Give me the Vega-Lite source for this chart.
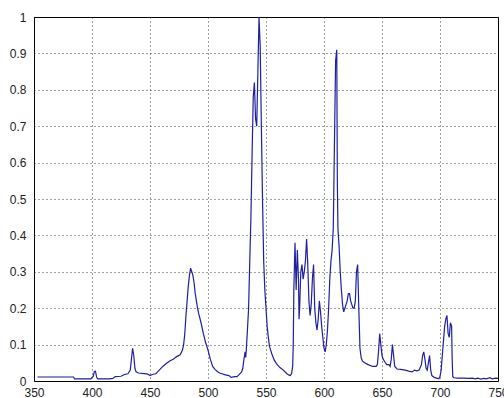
{
  "$schema": "https://vega.github.io/schema/vega-lite/v6.json",
  "width": 464,
  "height": 364,
  "autosize": {"type": "none"},
  "padding": {"left": 34, "top": 17, "right": 6, "bottom": 17},
  "background": "#ffffff",
  "config": {
    "view": {"stroke": "#000000", "strokeWidth": 1},
    "axis": {
      "domain": false,
      "ticks": false,
      "grid": true,
      "gridColor": "#000000",
      "gridOpacity": 0.75,
      "gridDash": [1, 3],
      "gridWidth": 1,
      "labelFont": "Liberation Sans",
      "labelFontSize": 12,
      "labelColor": "#222222",
      "title": null
    }
  },
  "data": {
    "values": [
      {"nm": 353, "v": 0.011}, {"nm": 384, "v": 0.011}, {"nm": 385, "v": 0.006}, {"nm": 399, "v": 0.006},
      {"nm": 400, "v": 0.01}, {"nm": 401, "v": 0.012}, {"nm": 402, "v": 0.026}, {"nm": 403, "v": 0.027},
      {"nm": 404, "v": 0.01}, {"nm": 405, "v": 0.006}, {"nm": 410, "v": 0.006}, {"nm": 415, "v": 0.006},
      {"nm": 418, "v": 0.007}, {"nm": 420, "v": 0.012}, {"nm": 425, "v": 0.013}, {"nm": 428, "v": 0.018},
      {"nm": 431, "v": 0.02}, {"nm": 433, "v": 0.03}, {"nm": 434, "v": 0.06}, {"nm": 435, "v": 0.09},
      {"nm": 436, "v": 0.07}, {"nm": 437, "v": 0.035}, {"nm": 438, "v": 0.025}, {"nm": 440, "v": 0.022},
      {"nm": 445, "v": 0.02}, {"nm": 448, "v": 0.019}, {"nm": 450, "v": 0.015}, {"nm": 452, "v": 0.018},
      {"nm": 455, "v": 0.02}, {"nm": 458, "v": 0.03}, {"nm": 461, "v": 0.04}, {"nm": 464, "v": 0.048},
      {"nm": 467, "v": 0.055}, {"nm": 470, "v": 0.06}, {"nm": 473, "v": 0.067}, {"nm": 476, "v": 0.072},
      {"nm": 478, "v": 0.085}, {"nm": 479, "v": 0.1}, {"nm": 480, "v": 0.13}, {"nm": 481, "v": 0.18},
      {"nm": 482, "v": 0.22}, {"nm": 483, "v": 0.26}, {"nm": 484, "v": 0.29}, {"nm": 485, "v": 0.31},
      {"nm": 486, "v": 0.3}, {"nm": 487, "v": 0.29}, {"nm": 488, "v": 0.27}, {"nm": 489, "v": 0.24},
      {"nm": 490, "v": 0.22}, {"nm": 491, "v": 0.2}, {"nm": 492, "v": 0.185}, {"nm": 494, "v": 0.16},
      {"nm": 496, "v": 0.13}, {"nm": 498, "v": 0.105}, {"nm": 500, "v": 0.085}, {"nm": 502, "v": 0.06},
      {"nm": 504, "v": 0.04}, {"nm": 506, "v": 0.032}, {"nm": 508, "v": 0.026}, {"nm": 510, "v": 0.022},
      {"nm": 512, "v": 0.02}, {"nm": 515, "v": 0.017}, {"nm": 518, "v": 0.015}, {"nm": 520, "v": 0.01},
      {"nm": 523, "v": 0.012}, {"nm": 525, "v": 0.012}, {"nm": 527, "v": 0.018}, {"nm": 529, "v": 0.025},
      {"nm": 530, "v": 0.035}, {"nm": 531, "v": 0.06}, {"nm": 532, "v": 0.08}, {"nm": 532.5, "v": 0.065},
      {"nm": 533, "v": 0.085}, {"nm": 534, "v": 0.14}, {"nm": 535, "v": 0.2}, {"nm": 536, "v": 0.33},
      {"nm": 537, "v": 0.45}, {"nm": 538, "v": 0.62}, {"nm": 539, "v": 0.78}, {"nm": 540, "v": 0.82},
      {"nm": 541, "v": 0.72}, {"nm": 542, "v": 0.7}, {"nm": 543, "v": 0.85}, {"nm": 544, "v": 1.0},
      {"nm": 545, "v": 0.92}, {"nm": 546, "v": 0.7}, {"nm": 547, "v": 0.5}, {"nm": 548, "v": 0.33},
      {"nm": 549, "v": 0.25}, {"nm": 550, "v": 0.2}, {"nm": 551, "v": 0.15}, {"nm": 552, "v": 0.12},
      {"nm": 553, "v": 0.095}, {"nm": 555, "v": 0.075}, {"nm": 557, "v": 0.058}, {"nm": 559, "v": 0.048},
      {"nm": 562, "v": 0.037}, {"nm": 565, "v": 0.03}, {"nm": 568, "v": 0.02}, {"nm": 570, "v": 0.016},
      {"nm": 571, "v": 0.015}, {"nm": 572, "v": 0.02}, {"nm": 573, "v": 0.04}, {"nm": 573.5, "v": 0.1},
      {"nm": 574, "v": 0.25}, {"nm": 575, "v": 0.38}, {"nm": 576, "v": 0.25}, {"nm": 577, "v": 0.36},
      {"nm": 578, "v": 0.28}, {"nm": 578.5, "v": 0.17}, {"nm": 579, "v": 0.2}, {"nm": 580, "v": 0.3},
      {"nm": 581, "v": 0.32}, {"nm": 582, "v": 0.28}, {"nm": 583, "v": 0.3}, {"nm": 584, "v": 0.33},
      {"nm": 585, "v": 0.39}, {"nm": 586, "v": 0.32}, {"nm": 587, "v": 0.22}, {"nm": 588, "v": 0.18},
      {"nm": 589, "v": 0.21}, {"nm": 590, "v": 0.28}, {"nm": 591, "v": 0.32}, {"nm": 592, "v": 0.2},
      {"nm": 593, "v": 0.16}, {"nm": 594, "v": 0.14}, {"nm": 595, "v": 0.17}, {"nm": 596, "v": 0.22},
      {"nm": 597, "v": 0.19}, {"nm": 598, "v": 0.15}, {"nm": 599, "v": 0.12}, {"nm": 600, "v": 0.09},
      {"nm": 601, "v": 0.08}, {"nm": 602, "v": 0.1}, {"nm": 603, "v": 0.14}, {"nm": 604, "v": 0.2},
      {"nm": 605, "v": 0.28}, {"nm": 606, "v": 0.33}, {"nm": 607, "v": 0.36}, {"nm": 608, "v": 0.42},
      {"nm": 609, "v": 0.65}, {"nm": 610, "v": 0.88}, {"nm": 611, "v": 0.91}, {"nm": 611.5, "v": 0.55},
      {"nm": 612, "v": 0.42}, {"nm": 613, "v": 0.37}, {"nm": 614, "v": 0.3}, {"nm": 615, "v": 0.25},
      {"nm": 616, "v": 0.21}, {"nm": 617, "v": 0.19}, {"nm": 618, "v": 0.2}, {"nm": 619, "v": 0.21},
      {"nm": 620, "v": 0.22}, {"nm": 621, "v": 0.24}, {"nm": 622, "v": 0.24}, {"nm": 623, "v": 0.22},
      {"nm": 624, "v": 0.21}, {"nm": 625, "v": 0.2}, {"nm": 626, "v": 0.2}, {"nm": 627, "v": 0.22},
      {"nm": 628, "v": 0.3}, {"nm": 629, "v": 0.32}, {"nm": 630, "v": 0.2}, {"nm": 631, "v": 0.09},
      {"nm": 632, "v": 0.065}, {"nm": 633, "v": 0.055}, {"nm": 635, "v": 0.05}, {"nm": 638, "v": 0.045},
      {"nm": 642, "v": 0.04}, {"nm": 645, "v": 0.04}, {"nm": 646, "v": 0.045}, {"nm": 647, "v": 0.08},
      {"nm": 648, "v": 0.13}, {"nm": 649, "v": 0.1}, {"nm": 650, "v": 0.07}, {"nm": 651, "v": 0.06},
      {"nm": 652, "v": 0.055}, {"nm": 654, "v": 0.045}, {"nm": 656, "v": 0.045}, {"nm": 657, "v": 0.04},
      {"nm": 658, "v": 0.06}, {"nm": 659, "v": 0.1}, {"nm": 660, "v": 0.07}, {"nm": 661, "v": 0.04},
      {"nm": 663, "v": 0.033}, {"nm": 666, "v": 0.032}, {"nm": 670, "v": 0.03}, {"nm": 673, "v": 0.027},
      {"nm": 676, "v": 0.025}, {"nm": 678, "v": 0.03}, {"nm": 680, "v": 0.028}, {"nm": 682, "v": 0.03},
      {"nm": 684, "v": 0.045}, {"nm": 685, "v": 0.07}, {"nm": 686, "v": 0.08}, {"nm": 687, "v": 0.06},
      {"nm": 688, "v": 0.035}, {"nm": 689, "v": 0.03}, {"nm": 690, "v": 0.05}, {"nm": 691, "v": 0.07},
      {"nm": 692, "v": 0.03}, {"nm": 693, "v": 0.015}, {"nm": 695, "v": 0.01}, {"nm": 697, "v": 0.008},
      {"nm": 699, "v": 0.006}, {"nm": 700, "v": 0.012}, {"nm": 701, "v": 0.03}, {"nm": 702, "v": 0.07},
      {"nm": 703, "v": 0.11}, {"nm": 704, "v": 0.15}, {"nm": 705, "v": 0.17}, {"nm": 706, "v": 0.18},
      {"nm": 707, "v": 0.13}, {"nm": 708, "v": 0.12}, {"nm": 709, "v": 0.16}, {"nm": 710, "v": 0.15},
      {"nm": 710.5, "v": 0.06}, {"nm": 711, "v": 0.012}, {"nm": 712, "v": 0.009}, {"nm": 715, "v": 0.008},
      {"nm": 720, "v": 0.008}, {"nm": 725, "v": 0.007}, {"nm": 728, "v": 0.008}, {"nm": 730, "v": 0.006},
      {"nm": 733, "v": 0.008}, {"nm": 735, "v": 0.005}, {"nm": 738, "v": 0.007}, {"nm": 740, "v": 0.006},
      {"nm": 743, "v": 0.009}, {"nm": 745, "v": 0.006}, {"nm": 748, "v": 0.008}, {"nm": 750, "v": 0.007}
    ]
  },
  "mark": {"type": "line", "color": "#1f1fa0", "strokeWidth": 1.2, "clip": true},
  "encoding": {
    "x": {
      "field": "nm",
      "type": "quantitative",
      "scale": {"domain": [350, 750], "nice": false, "zero": false},
      "axis": {"values": [350, 400, 450, 500, 550, 600, 650, 700, 750], "labelPadding": 6, "labelFlush": false}
    },
    "y": {
      "field": "v",
      "type": "quantitative",
      "scale": {"domain": [0, 1], "nice": false},
      "axis": {"values": [0, 0.1, 0.2, 0.3, 0.4, 0.5, 0.6, 0.7, 0.8, 0.9, 1], "format": "~g", "labelPadding": 8}
    }
  }
}
